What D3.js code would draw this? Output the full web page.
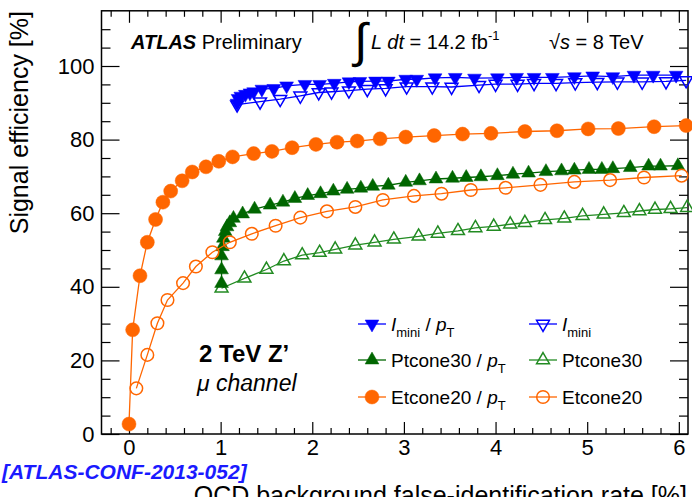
<!DOCTYPE html>
<html>
<head>
<meta charset="utf-8">
<script src="https://cdn.jsdelivr.net/npm/d3@7"></script>
<style>
  body { margin: 0; background: #fff; }
  svg { display: block; font-family: "Liberation Sans", Arial, sans-serif; }
</style>
</head>
<body>
<svg id="chart" width="692" height="497"></svg>
<script>
// values: x = QCD fake rate [%], y = signal efficiency [%]
const imFilledX = [1.18, 1.19, 1.22, 1.27, 1.32, 1.36, 1.45, 1.58, 1.72, 1.92, 2.08, 2.24, 2.40, 2.52, 2.69, 2.83, 3.02, 3.14, 3.34, 3.56, 3.77, 4.02, 4.23, 4.42, 4.62, 4.86, 5.06, 5.28, 5.51, 5.72, 5.97];
const imFilledY = [89.9, 91.2, 91.8, 92.3, 92.7, 93.0, 93.7, 93.9, 94.6, 95.0, 95.0, 95.3, 95.7, 95.8, 95.9, 95.9, 96.4, 96.4, 96.8, 96.9, 96.7, 96.8, 96.9, 96.9, 96.9, 97.1, 97.3, 97.1, 97.5, 97.5, 97.5];

const imOpenX = [1.18, 1.43, 1.65, 1.87, 2.07, 2.21, 2.40, 2.60, 2.80, 3.03, 3.31, 3.52, 3.82, 4.00, 4.24, 4.42, 4.66, 4.87, 5.11, 5.33, 5.60, 5.86, 6.08];
const imOpenY = [89.5, 90.3, 91.0, 91.9, 92.8, 93.0, 93.3, 93.7, 93.9, 94.4, 94.4, 94.3, 94.8, 95.1, 95.1, 95.3, 95.3, 95.5, 95.6, 95.7, 95.7, 95.8, 96.1];

const ptFilledX = [1.01, 1.01, 1.01, 1.02, 1.03, 1.05, 1.07, 1.10, 1.14, 1.24, 1.37, 1.54, 1.68, 1.81, 1.95, 2.09, 2.23, 2.38, 2.53, 2.66, 2.83, 3.02, 3.17, 3.35, 3.53, 3.68, 3.84, 4.02, 4.19, 4.36, 4.55, 4.72, 4.86, 5.02, 5.16, 5.28, 5.47, 5.67, 5.80, 5.99];
const ptFilledY = [40.9, 44.6, 48.4, 50.9, 53.2, 55.0, 56.3, 57.4, 58.6, 59.8, 61.1, 62.2, 63.0, 64.0, 64.8, 65.3, 66.0, 66.5, 66.8, 67.3, 67.6, 68.4, 68.8, 69.3, 69.5, 69.7, 69.9, 70.2, 70.6, 70.9, 71.3, 71.5, 71.7, 71.9, 71.9, 72.1, 72.4, 72.8, 72.8, 72.9];

const ptOpenX = [1.01, 1.26, 1.50, 1.69, 1.89, 2.08, 2.25, 2.47, 2.68, 2.89, 3.16, 3.37, 3.59, 3.78, 3.98, 4.16, 4.32, 4.54, 4.75, 4.95, 5.18, 5.40, 5.57, 5.74, 5.91, 6.09];
const ptOpenY = [39.6, 42.3, 44.7, 47.0, 48.6, 49.3, 50.2, 51.3, 52.1, 52.9, 53.7, 54.5, 55.2, 56.0, 56.4, 57.0, 57.4, 58.2, 58.6, 59.3, 59.7, 60.1, 60.6, 61.0, 61.2, 61.5];

const etFilledX = [0.00, 0.04, 0.12, 0.20, 0.29, 0.37, 0.455, 0.58, 0.69, 0.84, 0.98, 1.13, 1.36, 1.56, 1.78, 2.04, 2.27, 2.49, 2.74, 3.02, 3.33, 3.64, 3.95, 4.32, 4.67, 5.01, 5.34, 5.73, 6.08];
const etFilledY = [2.7, 28.3, 43.0, 52.1, 58.3, 63.0, 66.0, 68.8, 71.2, 72.6, 74.1, 75.3, 76.2, 76.8, 77.8, 78.7, 79.3, 79.6, 80.2, 80.7, 81.1, 81.5, 81.7, 82.2, 82.4, 82.9, 83.0, 83.5, 83.8];

const etOpenX = [0.08, 0.20, 0.31, 0.42, 0.59, 0.73, 0.91, 1.10, 1.34, 1.60, 1.87, 2.16, 2.47, 2.77, 3.11, 3.41, 3.73, 4.11, 4.49, 4.86, 5.25, 5.62, 6.03];
const etOpenY = [12.4, 21.5, 30.1, 36.4, 41.0, 45.5, 49.4, 52.1, 54.4, 56.6, 58.8, 60.5, 61.7, 63.6, 64.7, 65.3, 66.3, 66.9, 67.7, 68.5, 69.0, 69.7, 70.2];

const xMajor = [0, 1, 2, 3, 4, 5, 6];
const yMajor = [0, 20, 40, 60, 80, 100];

const blue = "#0000ff", green = "#006600", orange = "#ff6600";

const series = [
  { xs: imFilledX, ys: imFilledY, color: blue, shape: "tdown", filled: true },
  { xs: imOpenX, ys: imOpenY, color: blue, shape: "tdown", filled: false },
  { xs: ptOpenX, ys: ptOpenY, color: "#228b22", shape: "tup", filled: false },
  { xs: ptFilledX, ys: ptFilledY, color: green, shape: "tup", filled: true },
  { xs: etOpenX, ys: etOpenY, color: orange, shape: "circle", filled: false },
  { xs: etFilledX, ys: etFilledY, color: orange, shape: "circle", filled: true }
];

const svg = d3.select("#chart");
svg.append("rect").attr("width", 692).attr("height", 497).attr("fill", "#fff");

const x = d3.scaleLinear().domain([-0.3, 6.1]).range([101.5, 688]);
const y = d3.scaleLinear().domain([0, 115]).range([434, 10.8]);

const xMinor = d3.range(-0.2, 6.1, 0.2).map(v => +v.toFixed(1)).filter(v => !xMajor.includes(v));
const yMinor = d3.range(5, 115, 5).filter(v => !yMajor.includes(v));

function styleAxis(g) {
  g.select(".domain").remove();
  g.selectAll("line").attr("stroke", "#000").attr("stroke-width", 1.2);
  g.selectAll("text").attr("fill", "#000").style("font-size", "22px");
}

// bottom
svg.append("g").attr("transform", "translate(0,434)")
  .call(d3.axisBottom(x).tickValues(xMajor).tickFormat(d3.format("d")).tickSizeInner(-12).tickSizeOuter(0))
  .call(styleAxis)
  .selectAll("text").attr("y", 5);
svg.append("g").attr("transform", "translate(0,434)")
  .call(d3.axisBottom(x).tickValues(xMinor).tickFormat("").tickSizeInner(-6).tickSizeOuter(0))
  .call(styleAxis);
// top
svg.append("g").attr("transform", "translate(0,10.8)")
  .call(d3.axisTop(x).tickValues(xMajor).tickFormat("").tickSizeInner(-12).tickSizeOuter(0))
  .call(styleAxis);
svg.append("g").attr("transform", "translate(0,10.8)")
  .call(d3.axisTop(x).tickValues(xMinor).tickFormat("").tickSizeInner(-6).tickSizeOuter(0))
  .call(styleAxis);
// left
svg.append("g").attr("transform", "translate(101.5,0)")
  .call(d3.axisLeft(y).tickValues(yMajor).tickFormat(d3.format("d")).tickSizeInner(-18).tickSizeOuter(0).tickPadding(7))
  .call(styleAxis);
svg.append("g").attr("transform", "translate(101.5,0)")
  .call(d3.axisLeft(y).tickValues(yMinor).tickFormat("").tickSizeInner(-9).tickSizeOuter(0))
  .call(styleAxis);
// right
svg.append("g").attr("transform", "translate(688,0)")
  .call(d3.axisRight(y).tickValues(yMajor).tickFormat("").tickSizeInner(-18).tickSizeOuter(0))
  .call(styleAxis);
svg.append("g").attr("transform", "translate(688,0)")
  .call(d3.axisRight(y).tickValues(yMinor).tickFormat("").tickSizeInner(-9).tickSizeOuter(0))
  .call(styleAxis);

// frame
svg.append("rect")
  .attr("x", x(-0.3)).attr("y", y(115))
  .attr("width", x(6.1) - x(-0.3)).attr("height", y(0) - y(115))
  .attr("fill", "none").attr("stroke", "#000").attr("stroke-width", 1.5);

const line = d3.line().x(d => x(d[0])).y(d => y(d[1]));

function marker(sel, s) {
  if (s.shape === "circle") {
    sel.append("circle").attr("r", s.filled ? 7 : 6.3);
  } else {
    sel.append("path")
      .attr("d", d3.symbol().type(d3.symbolTriangle).size(s.filled ? 82 : 72)())
      .attr("transform", s.shape === "tdown" ? "rotate(180)" : null);
  }
  sel.selectAll("circle,path")
    .attr("fill", s.filled ? s.color : "none")
    .attr("stroke", s.color)
    .attr("stroke-width", s.filled ? 0.5 : 1.5);
}

const plot = svg.append("g");
series.forEach(s => {
  const pts = s.xs.map((v, i) => [v, s.ys[i]]);
  plot.append("path").datum(pts)
    .attr("d", line)
    .attr("fill", "none")
    .attr("stroke", s.color)
    .attr("stroke-width", 1.3);
  plot.append("g").selectAll("g")
    .data(pts)
    .enter()
    .append("g")
    .attr("transform", d => "translate(" + x(d[0]) + "," + y(d[1]) + ")")
    .each(function() { marker(d3.select(this), s); });
});

// legend
const legend = [
  { s: series[0], col: 0, row: 0, label: [["I", "i"], ["mini", "sub"], [" / ", ""], ["p", "i"], ["T", "sub"]] },
  { s: series[1], col: 1, row: 0, label: [["I", "i"], ["mini", "sub"]] },
  { s: series[3], col: 0, row: 1, label: [["Ptcone30 / ", ""], ["p", "i"], ["T", "sub"]] },
  { s: series[2], col: 1, row: 1, label: [["Ptcone30", ""]] },
  { s: series[5], col: 0, row: 2, label: [["Etcone20 / ", ""], ["p", "i"], ["T", "sub"]] },
  { s: series[4], col: 1, row: 2, label: [["Etcone20", ""]] }
];
const colX = [372, 543], rowY = [324, 360, 397];
legend.forEach(e => {
  const cx = colX[e.col], cy = rowY[e.row];
  const g = svg.append("g");
  g.append("line").attr("x1", cx - 14).attr("x2", cx + 14).attr("y1", cy).attr("y2", cy)
    .attr("stroke", e.s.color).attr("stroke-width", 1.3);
  const m = g.append("g").attr("transform", "translate(" + cx + "," + cy + ")");
  marker(m, e.s);
  const t = g.append("text").attr("x", cx + 19).attr("y", cy + 7).style("font-size", "19px").attr("fill", "#000");
  let down = false;
  e.label.forEach(p => {
    const ts = t.append("tspan").text(p[0]);
    if (p[1] === "i") ts.style("font-style", "italic");
    if (p[1] === "sub") {
      ts.style("font-size", "13px").attr("dy", 6);
      down = true;
    } else if (down) {
      ts.attr("dy", -6);
      down = false;
    }
  });
});

// header
const h = svg.append("text").attr("x", 131).attr("y", 49).style("font-size", "20px").attr("fill", "#000");
h.append("tspan").text("ATLAS").style("font-weight", "bold").style("font-style", "italic");
h.append("tspan").text(" Preliminary");

svg.append("text").attr("x", 354).attr("y", 57).style("font-size", "48px").style("font-weight", "200")
  .attr("fill", "#000").text("\u222B");
const lum = svg.append("text").attr("x", 371).attr("y", 49).style("font-size", "20px").attr("fill", "#000");
lum.append("tspan").text("L dt").style("font-style", "italic");
lum.append("tspan").text(" = 14.2 fb");
lum.append("tspan").text("-1").style("font-size", "13px").attr("dy", -9);

const rs = svg.append("text").attr("x", 549).attr("y", 49).style("font-size", "20px").attr("fill", "#000");
rs.append("tspan").text("\u221A");
rs.append("tspan").text("s").style("font-style", "italic");
rs.append("tspan").text(" = 8 TeV");

svg.append("text").attr("x", 199).attr("y", 362).style("font-size", "24px").style("font-weight", "bold")
  .attr("fill", "#000").text("2 TeV Z\u2019");
svg.append("text").attr("x", 197).attr("y", 391).style("font-size", "23px").style("font-style", "italic")
  .attr("fill", "#000").text("\u03BC channel");

svg.append("text").attr("x", 2).attr("y", 479).style("font-size", "21px").style("font-weight", "bold")
  .style("font-style", "italic").attr("fill", "#1a1aff").text("[ATLAS-CONF-2013-052]");

svg.append("text").attr("transform", "translate(28,11) rotate(-90)").attr("text-anchor", "end")
  .style("font-size", "25px").attr("fill", "#000").text("Signal efficiency [%]");
svg.append("text").attr("x", 687).attr("y", 504).attr("text-anchor", "end")
  .style("font-size", "25px").attr("fill", "#000").text("QCD background false-identification rate [%]");
</script>
</body>
</html>
